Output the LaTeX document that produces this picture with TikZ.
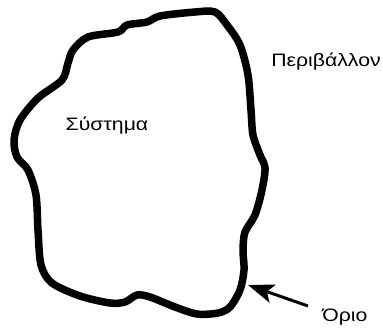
\documentclass[tikz,border=0pt]{standalone}
\usepackage{fontspec}
\setmainfont{Liberation Sans}
\usetikzlibrary{arrows.meta}
\begin{document}
\begin{tikzpicture}[x=1pt,y=-1pt,
  boundary/.style={line width=7.5pt,line join=round},
  lbl/.style={font=\fontsize{18}{20}\selectfont,inner sep=0pt,xscale=1.18},
  pointer/.style={line width=3pt,-{Stealth[length=26pt,width=19pt,inset=6pt]}}]
\useasboundingbox (0,0) rectangle (383,327);
\draw[boundary] plot[smooth cycle,tension=0.5] coordinates {
(215,12) (227,25) (240,45) (248,75) (251,110) (253,135) (260,155) (265,168)
(262,190) (255,215) (245,232) (243,250) (244,270) (240,290) (230,307) (218,313)
(197,314) (175,307) (150,297) (137,295) (125,302) (110,303) (80,296) (52,283)
(41,265) (38,230) (36,195) (28,170) (17,157) (14,140) (20,120) (38,98)
(62,80) (68,63) (73,50) (88,37) (118,32) (127,25) (147,22) (160,16) (195,12)};
\node[lbl] (env) at (326,62) {Περιβάλλον};
\node[lbl] (sys) at (107,126) {Σύστημα};
\node[lbl] (orio) at (345,317) {Όριο};
\coordinate (tail) at (308,306);
\coordinate (tip) at (248,285);
\draw[pointer] (tail) -- (tip);
\end{tikzpicture}
\end{document}
